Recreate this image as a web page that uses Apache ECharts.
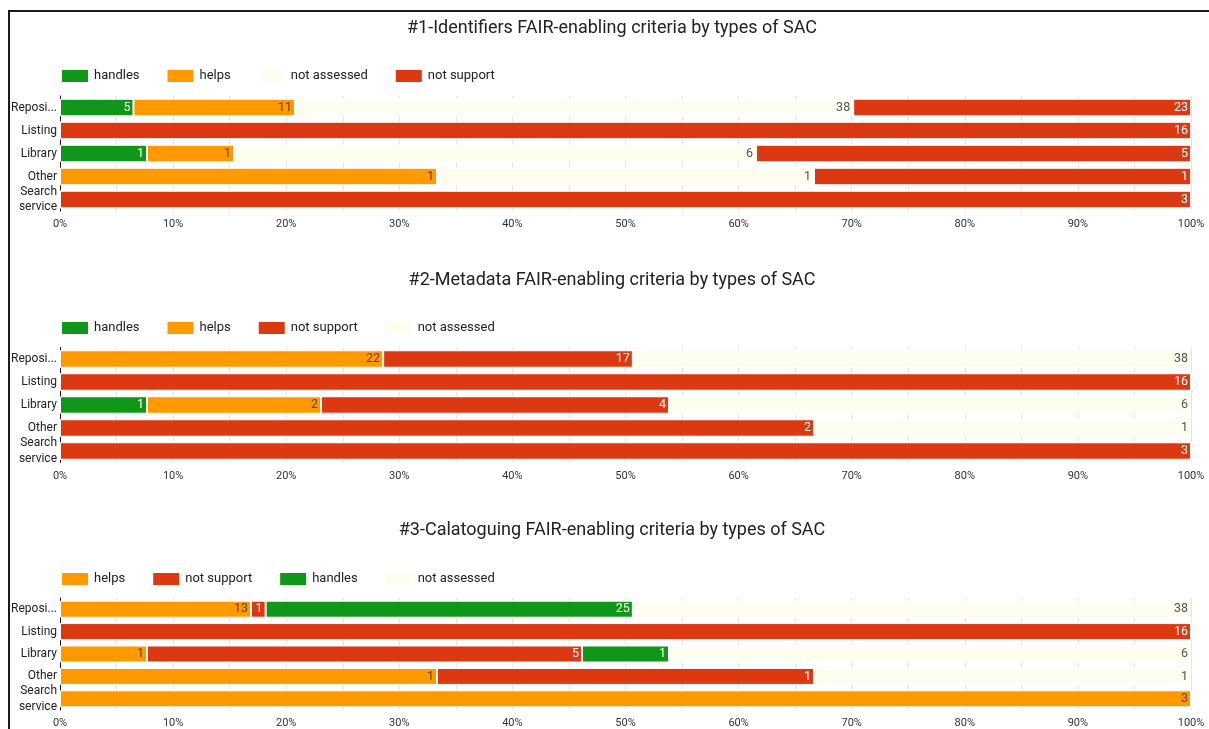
<!DOCTYPE html>
<html>
<head>
<meta charset="utf-8">
<style>
  html, body { margin: 0; padding: 0; background: #fff; }
  #chart { width: 1209px; height: 729px; }
</style>
<script src="https://cdn.jsdelivr.net/npm/echarts@6/dist/echarts.min.js"></script>
</head>
<body>
<div id="chart"></div>
<script>
// Types of SAC (rows of every panel)
const categories = ['Repository', 'Listing', 'Library', 'Other', 'Search service'];

// Panel titles
const titles = [
  '#1-Identifiers FAIR-enabling criteria by types of SAC',
  '#2-Metadata FAIR-enabling criteria by types of SAC',
  '#3-Calatoguing FAIR-enabling criteria by types of SAC'
];

// Counts per category: Repository, Listing, Library, Other, Search service
const idHandles      = [5, 0, 1, 0, 0];
const idHelps        = [11, 0, 1, 1, 0];
const idNotAssessed  = [38, 0, 6, 1, 0];
const idNotSupport   = [23, 16, 5, 1, 3];

const mdHandles      = [0, 0, 1, 0, 0];
const mdHelps        = [22, 0, 2, 0, 0];
const mdNotSupport   = [17, 16, 4, 2, 3];
const mdNotAssessed  = [38, 0, 6, 1, 0];

const catHelps       = [13, 0, 1, 1, 3];
const catNotSupport  = [1, 16, 5, 1, 0];
const catHandles     = [25, 0, 1, 0, 0];
const catNotAssessed = [38, 0, 6, 1, 0];

// Percent axis ticks
const pctTicks = [0, 10, 20, 30, 40, 50, 60, 70, 80, 90, 100];

// Series per panel, in stacking / legend order
const panels = [
  [['handles', idHandles], ['helps', idHelps], ['not assessed', idNotAssessed], ['not support', idNotSupport]],
  [['handles', mdHandles], ['helps', mdHelps], ['not support', mdNotSupport], ['not assessed', mdNotAssessed]],
  [['helps', catHelps], ['not support', catNotSupport], ['handles', catHandles], ['not assessed', catNotAssessed]]
];

const colors = {
  'handles': '#109618',
  'helps': '#ff9900',
  'not assessed': '#fdfdf0',
  'not support': '#dc3912'
};
const labelColors = {
  'handles': '#ffffff',
  'helps': 'rgba(0,0,0,0.62)',
  'not assessed': '#555555',
  'not support': '#ffffff'
};

const offsets = [0, 251.5, 502];
const titleTops = [19, 271, 521];
const legendTops = [68, 320, 571];
const gridTop = 96;
const gridHeight = 115;

const title = [], legend = [], grid = [], xAxis = [], yAxis = [], series = [];

panels.forEach((panel, p) => {
  const o = offsets[p];
  const totals = categories.map((_, i) => panel.reduce((s, [, arr]) => s + arr[i], 0));

  title.push({
    text: titles[p],
    left: 612,
    top: titleTops[p],
    textAlign: 'center',
    padding: 0,
    textStyle: { fontFamily: 'Roboto', fontSize: 18, fontWeight: 'normal', color: '#222' }
  });

  legend.push({
    data: panel.map(([name]) => name),
    left: 60,
    top: legendTops[p],
    padding: 0,
    itemWidth: 28,
    itemHeight: 14,
    itemGap: 26,
    icon: 'rect',
    selectedMode: false,
    textStyle: { fontFamily: 'Roboto', fontSize: 13, color: '#222' }
  });

  grid.push({ left: 60, right: 18, top: gridTop + o, height: gridHeight });

  xAxis.push({
    type: 'value',
    gridIndex: p,
    min: 0,
    max: 100,
    interval: 5,
    axisLine: { show: false },
    axisTick: { show: false },
    splitLine: { show: true, lineStyle: { color: '#e4e4e4', width: 1 } },
    axisLabel: {
      margin: 8,
      fontFamily: 'Roboto',
      fontSize: 11,
      color: '#333',
      formatter: v => (pctTicks.indexOf(v) >= 0 ? v + '%' : '')
    }
  });

  yAxis.push({
    type: 'category',
    gridIndex: p,
    data: categories,
    inverse: true,
    axisLine: { show: true, lineStyle: { color: '#111', width: 1 } },
    axisTick: { show: false },
    splitLine: { show: false },
    axisLabel: {
      interval: 0,
      hideOverlap: false,
      margin: 3,
      fontFamily: 'Roboto',
      fontSize: 12,
      lineHeight: 15.5,
      color: '#222',
      width: 50,
      overflow: 'truncate',
      ellipsis: '...',
      formatter: v => v.replace(' ', '\n')
    }
  });

  panel.forEach(([name, arr]) => {
    series.push({
      name,
      type: 'bar',
      stack: 'panel' + p,
      xAxisIndex: p,
      yAxisIndex: p,
      barCategoryGap: '24%',
      itemStyle: { color: colors[name], borderColor: '#ffffff', borderWidth: 1 },
      label: {
        show: true,
        position: 'insideRight',
        distance: 3,
        fontFamily: 'Roboto',
        fontSize: 12.5,
        color: labelColors[name],
        formatter: d => (d.data.raw > 0 ? String(d.data.raw) : '')
      },
      data: arr.map((v, i) => ({ value: v / totals[i] * 100, raw: v }))
    });
  });
});

const chart = echarts.init(document.getElementById('chart'), null, { renderer: 'canvas' });
chart.setOption({
  backgroundColor: '#ffffff',
  animation: false,
  color: Object.values(colors),
  title, legend, grid, xAxis, yAxis, series,
  graphic: [
    { type: 'line', shape: { x1: 8, y1: 11, x2: 1209, y2: 11 }, style: { stroke: '#1a1a1a', lineWidth: 2 } },
    { type: 'line', shape: { x1: 9, y1: 11, x2: 9, y2: 729 }, style: { stroke: '#1a1a1a', lineWidth: 2 } }
  ]
});
</script>
</body>
</html>
